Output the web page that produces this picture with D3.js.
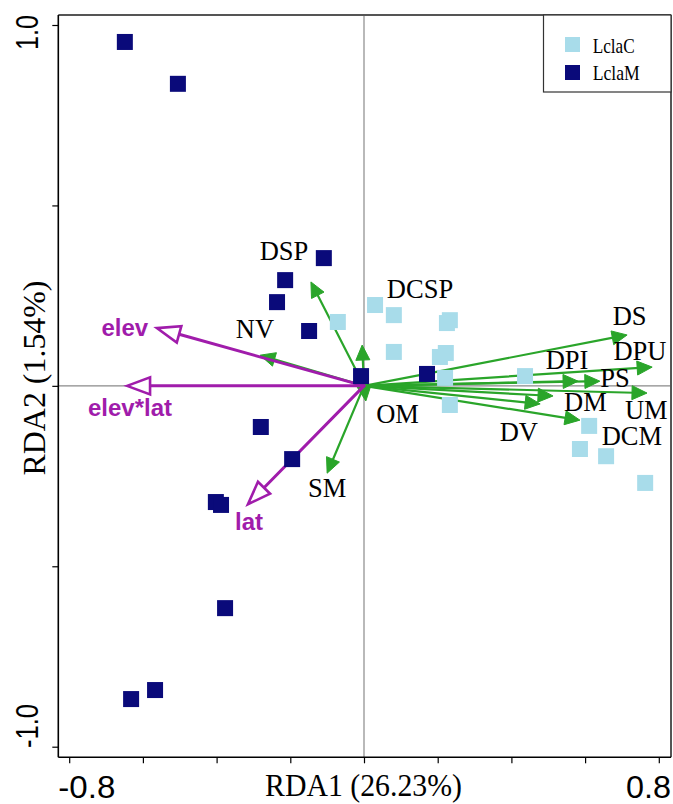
<!DOCTYPE html>
<html>
<head>
<meta charset="utf-8">
<script src="https://cdn.jsdelivr.net/npm/d3@7"></script>
<style>
html,body{margin:0;padding:0;background:#fff;}
svg{display:block;}
</style>
</head>
<body>
<svg id="chart" width="673" height="804"></svg>
<script>
// ---------------- DATA ----------------
const groups = ["LclaC", "LclaM"];
const groupColors = ["#a8dcea", "#0a0a7a"];

// site scores (RDA1, RDA2)
const lclaCx = [-0.071, 0.030, 0.081, 0.081, 0.225, 0.233, 0.222, 0.206, 0.220, 0.437, 0.233, 0.611, 0.586, 0.657, 0.763];
const lclaCy = [0.177, 0.224, 0.196, 0.094, 0.174, 0.182, 0.091, 0.080, 0.022, 0.027, -0.053, -0.111, -0.175, -0.195, -0.269];
const lclaMx = [-0.649, -0.505, -0.109, -0.214, -0.236, -0.149, -0.008, 0.171, -0.280, -0.195, -0.402, -0.388, -0.377, -0.567, -0.632];
const lclaMy = [0.953, 0.837, 0.354, 0.293, 0.232, 0.152, 0.027, 0.033, -0.114, -0.203, -0.322, -0.330, -0.616, -0.843, -0.868];

// response variables (green arrows)
const respNames = ["DSP", "NV", "DCSP", "OM", "SM", "DS", "DPU", "DPI", "PS", "DM", "UM", "DCM", "DV"];
const respX = [-0.144, -0.282, -0.005, 0.005, -0.100, 0.714, 0.782, 0.581, 0.640, 0.513, 0.768, 0.586, 0.478];
const respY = [0.288, 0.085, 0.113, -0.042, -0.242, 0.141, 0.052, 0.013, 0.013, -0.028, -0.020, -0.095, -0.050];
const respLabelX = [-0.217, -0.296, 0.152, 0.091, -0.100, 0.721, 0.749, 0.551, 0.681, 0.601, 0.766, 0.727, 0.420];
const respLabelY = [0.373, 0.157, 0.268, -0.078, -0.283, 0.193, 0.097, 0.072, 0.022, -0.045, -0.067, -0.139, -0.128];

// explanatory variables (purple arrows)
const explNames = ["elev", "elev*lat", "lat"];
const explX = [-0.562, -0.643, -0.315];
const explY = [0.160, 0.000, -0.328];
const explLabelX = [-0.649, -0.635, -0.312];
const explLabelY = [0.139, -0.083, -0.400];

const xTicks = [-0.8, -0.6, -0.4, -0.2, 0, 0.2, 0.4, 0.6, 0.8];
const yTicks = [-1.0, -0.5, 0, 0.5, 1.0];
const xTickLabels = ["-0.8", "0.8"];
const yTickLabels = ["1.0", "-1.0"];
const xTitle = "RDA1 (26.23%)";
const yTitle = "RDA2 (1.54%)";

// ---------------- LAYOUT ----------------
const svg = d3.select("#chart");
const plotL = 58.3, plotR = 671, plotT = 15, plotB = 757.3;
const x = d3.scaleLinear().domain([-0.8, 0.8]).range([69.2, 658.8]);
const y = d3.scaleLinear().domain([-1, 1]).range([746.7, 25]);

const green = "#2aa52a";
const purple = "#a01cab";
const serif = "'Liberation Serif','Times New Roman',serif";
const sans = "'Liberation Sans',Arial,sans-serif";

// zero lines
svg.append("line").attr("x1", x(0)).attr("x2", x(0)).attr("y1", plotT).attr("y2", plotB)
  .attr("stroke", "#8a8a8a").attr("stroke-width", 1.2);
svg.append("line").attr("x1", plotL).attr("x2", plotR).attr("y1", y(0)).attr("y2", y(0))
  .attr("stroke", "#8a8a8a").attr("stroke-width", 1.2);

// top & right border
svg.append("line").attr("x1", plotL).attr("x2", plotR).attr("y1", plotT).attr("y2", plotT)
  .attr("stroke", "#555").attr("stroke-width", 2);
svg.append("line").attr("x1", plotR).attr("x2", plotR).attr("y1", plotT).attr("y2", plotB)
  .attr("stroke", "#555").attr("stroke-width", 2);

// axes
const xAxis = d3.axisBottom(x).tickValues(xTicks).tickFormat("").tickSize(6).tickSizeOuter(0);
const gx = svg.append("g").attr("transform", `translate(0,${plotB})`).call(xAxis);
gx.select(".domain").attr("d", `M${plotL},0H${plotR}`).attr("stroke", "#000").attr("stroke-width", 1.6);
gx.selectAll(".tick line").attr("stroke", "#000").attr("stroke-width", 1.2);

const yAxis = d3.axisLeft(y).tickValues(yTicks).tickFormat("").tickSize(6).tickSizeOuter(0);
const gy = svg.append("g").attr("transform", `translate(${plotL},0)`).call(yAxis);
gy.select(".domain").attr("d", `M0,${plotT}V${plotB}`).attr("stroke", "#000").attr("stroke-width", 1.6);
gy.selectAll(".tick line").attr("stroke", "#000").attr("stroke-width", 1.2);

// tick labels (clamped inside plot extent like the original)
svg.append("text").text(xTickLabels[0]).attr("x", plotL).attr("y", 798)
  .attr("text-anchor", "start").attr("font-family", sans).attr("font-size", 32)
  .attr("textLength", 57).attr("lengthAdjust", "spacingAndGlyphs").attr("fill", "#000");
svg.append("text").text(xTickLabels[1]).attr("x", plotR).attr("y", 798)
  .attr("text-anchor", "end").attr("font-family", sans).attr("font-size", 32)
  .attr("textLength", 45).attr("lengthAdjust", "spacingAndGlyphs").attr("fill", "#000");
svg.append("text").text(yTickLabels[0])
  .attr("transform", `translate(38,50) rotate(-90)`)
  .attr("text-anchor", "start").attr("font-family", sans).attr("font-size", 32)
  .attr("textLength", 35).attr("lengthAdjust", "spacingAndGlyphs").attr("fill", "#000");
svg.append("text").text(yTickLabels[1])
  .attr("transform", `translate(38,748) rotate(-90)`)
  .attr("text-anchor", "start").attr("font-family", sans).attr("font-size", 32)
  .attr("textLength", 44).attr("lengthAdjust", "spacingAndGlyphs").attr("fill", "#000");

// axis titles
svg.append("text").text(xTitle).attr("x", 363.5).attr("y", 796)
  .attr("text-anchor", "middle").attr("font-family", serif).attr("font-size", 31)
  .attr("textLength", 197).attr("lengthAdjust", "spacingAndGlyphs").attr("fill", "#000");
svg.append("text").text(yTitle)
  .attr("transform", `translate(45,378) rotate(-90)`)
  .attr("text-anchor", "middle").attr("font-family", serif).attr("font-size", 31)
  .attr("textLength", 195).attr("lengthAdjust", "spacingAndGlyphs").attr("fill", "#000");

// arrow helper
function arrow(g, x0, y0, x1, y1, L, W, color, lw, open) {
  const dx = x1 - x0, dy = y1 - y0, len = Math.hypot(dx, dy);
  const ux = dx / len, uy = dy / len, nx = -uy, ny = ux;
  const bx = x1 - ux * L, by = y1 - uy * L;
  g.append("line").attr("x1", x0).attr("y1", y0).attr("x2", bx + ux * (open ? 0 : 2)).attr("y2", by + uy * (open ? 0 : 2))
    .attr("stroke", color).attr("stroke-width", lw).attr("stroke-linecap", "round");
  const pts = [[x1, y1], [bx + nx * W, by + ny * W], [bx - nx * W, by - ny * W]];
  g.append("polygon").attr("points", pts.map(p => p.join(",")).join(" "))
    .attr("fill", open ? "#fff" : color).attr("stroke", color)
    .attr("stroke-width", open ? 2.6 : 1).attr("stroke-linejoin", "miter");
}

// green arrows
const gGreen = svg.append("g");
respNames.forEach((n, i) => arrow(gGreen, x(0), y(0), x(respX[i]), y(respY[i]), 15, 7, green, 2.2, false));

// purple arrows
const gPurple = svg.append("g");
explNames.forEach((n, i) => arrow(gPurple, x(0), y(0), x(explX[i]), y(explY[i]), 23, 8.5, purple, 3, true));

// points
const sq = 16;
const pts = [];
lclaCx.forEach((v, i) => pts.push({x: v, y: lclaCy[i], g: 0}));
lclaMx.forEach((v, i) => pts.push({x: v, y: lclaMy[i], g: 1}));
svg.append("g").selectAll("rect").data(pts).join("rect")
  .attr("x", d => x(d.x) - sq / 2).attr("y", d => y(d.y) - sq / 2)
  .attr("width", sq).attr("height", sq)
  .attr("fill", d => groupColors[d.g]);

// response labels
svg.append("g").selectAll("text").data(respNames).join("text")
  .text(d => d)
  .attr("x", (d, i) => x(respLabelX[i])).attr("y", (d, i) => y(respLabelY[i]))
  .attr("dy", "0.33em").attr("text-anchor", "middle")
  .attr("font-family", serif).attr("font-size", 26.5).attr("fill", "#000");

// explanatory labels
svg.append("g").selectAll("text").data(explNames).join("text")
  .text(d => d)
  .attr("x", (d, i) => x(explLabelX[i])).attr("y", (d, i) => y(explLabelY[i]))
  .attr("text-anchor", "middle")
  .attr("font-family", sans).attr("font-weight", "bold").attr("font-size", 24).attr("fill", purple);

// legend
const lg = svg.append("g");
lg.append("rect").attr("x", 543.5).attr("y", plotT).attr("width", plotR - 543.5).attr("height", 77)
  .attr("fill", "#fff").attr("stroke", "#333").attr("stroke-width", 1.2);
groups.forEach((gname, i) => {
  lg.append("rect").attr("x", 565).attr("y", 37 + i * 28).attr("width", 15).attr("height", 15)
    .attr("fill", groupColors[i]);
  lg.append("text").text(gname).attr("x", 592.7).attr("y", 53 + i * 27)
    .attr("font-family", serif).attr("font-size", 22)
    .attr("textLength", i === 0 ? 42 : 47).attr("lengthAdjust", "spacingAndGlyphs").attr("fill", "#000");
});
</script>
</body>
</html>
